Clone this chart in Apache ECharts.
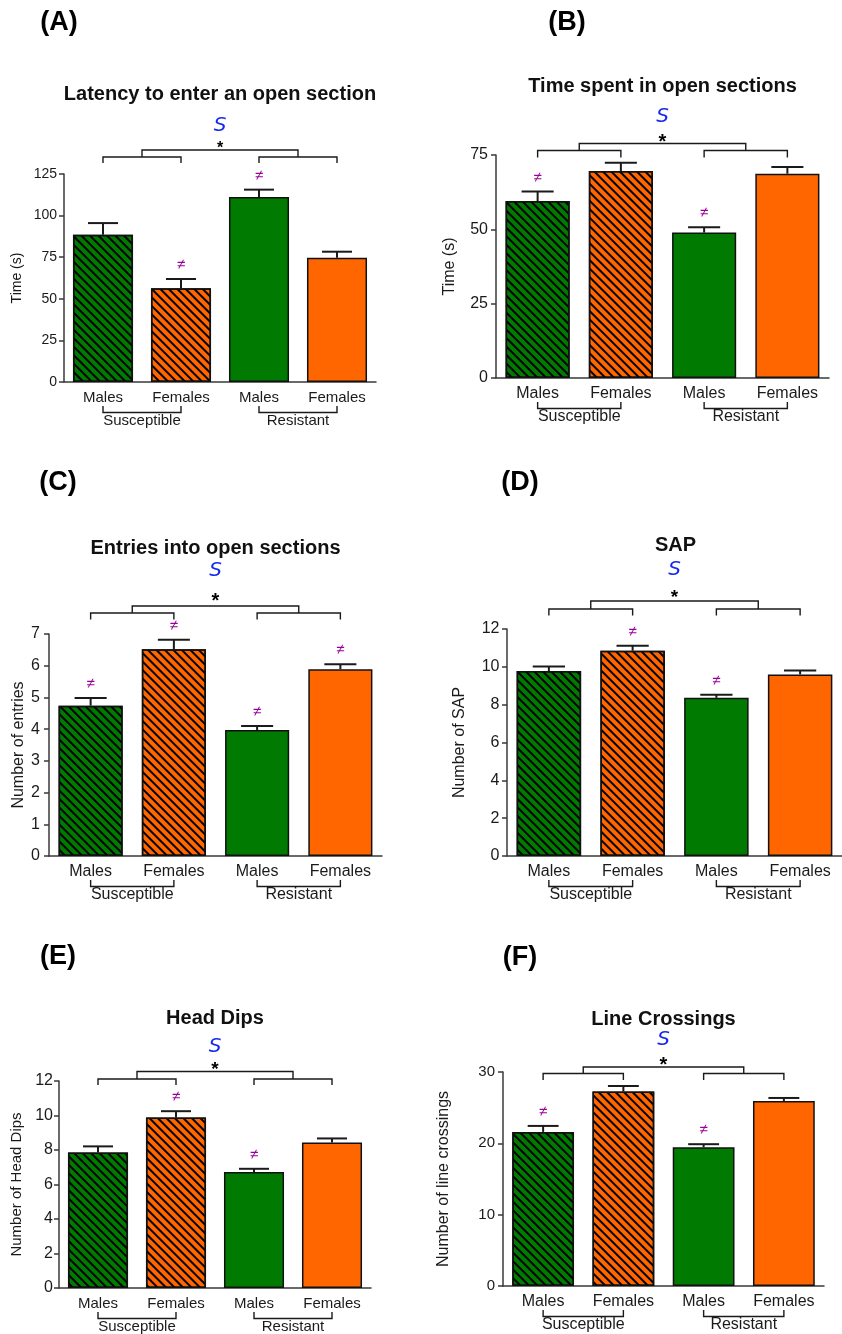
<!DOCTYPE html>
<html>
<head>
<meta charset="utf-8">
<script src="https://cdn.jsdelivr.net/npm/echarts@6/dist/echarts.min.js"></script>
<style>
html,body{margin:0;padding:0;background:#fff;}
#chart{width:842px;height:1334px;}
</style>
</head>
<body>
<div id="chart"></div>
<script>
// ---------------- DATA ----------------
const catLabels = ['Males', 'Females', 'Males', 'Females'];
const groupLabels = ['Susceptible', 'Resistant'];
const panelTags = ['(A)', '(B)', '(C)', '(D)', '(E)', '(F)'];
const panelTitles = ['Latency to enter an open section', 'Time spent in open sections',
  'Entries into open sections', 'SAP', 'Head Dips', 'Line Crossings'];
const yAxisNames = ['Time (s)', 'Time (s)', 'Number of entries', 'Number of SAP',
  'Number of Head Dips', 'Number of line crossings'];
const yMax = [125, 75, 7, 12, 12, 30];
const yStep = [25, 25, 1, 2, 2, 10];

const latencyMean = [88.5, 56.3, 111.2, 74.7];
const latencySem  = [7.0, 5.6, 4.4, 3.6];
const latencyNeq  = [0, 1, 1, 0];

const timeMean = [59.5, 69.6, 48.9, 68.7];
const timeSem  = [3.2, 2.8, 1.8, 2.3];
const timeNeq  = [1, 0, 1, 0];

const entriesMean = [4.74, 6.52, 3.97, 5.89];
const entriesSem  = [0.24, 0.30, 0.13, 0.16];
const entriesNeq  = [1, 1, 1, 1];

const sapMean = [9.78, 10.85, 8.36, 9.60];
const sapSem  = [0.24, 0.27, 0.16, 0.21];
const sapNeq  = [0, 1, 1, 0];

const headMean = [7.86, 9.88, 6.72, 8.44];
const headSem  = [0.35, 0.37, 0.19, 0.23];
const headNeq  = [0, 1, 1, 0];

const lineMean = [21.6, 27.25, 19.46, 25.94];
const lineSem  = [0.84, 0.79, 0.42, 0.42];
const lineNeq  = [1, 0, 1, 0];

const groupEffect = 'S';
const sexEffect = '*';
const diffMark = '\u2260';

const allMeans = [latencyMean, timeMean, entriesMean, sapMean, headMean, lineMean];
const allSems = [latencySem, timeSem, entriesSem, sapSem, headSem, lineSem];
const allNeq = [latencyNeq, timeNeq, entriesNeq, sapNeq, headNeq, lineNeq];

// ---------------- LAYOUT / STYLE ----------------
const FONT = 'Liberation Sans, Arial, sans-serif';
const GREEN = '#007A00', ORANGE = '#FF6600';
const AXIS = '#3a3a3a', INK = '#1a1a1a';
const BAR_FRAC = 0.77;
const layout = [
  {grid:{left:64, top:174, width:312, height:208}, fs:15, yfs:14, nfs:14, nameCx:16.7, lm:7, titleY:94, tag:[59,23],
   sub:-17, subBot:-11, main:-24, star:-29, sig:-48, starFs:16},
  {grid:{left:496, top:155, width:333, height:223}, fs:16, yfs:16, nfs:16, nameCx:450, lm:8, titleY:86, tag:[567,23],
   sub:-4.5, subBot:2.5, main:-11.5, star:-17, sig:-38, starFs:20},
  {grid:{left:49, top:634, width:333, height:222}, fs:16, yfs:16, nfs:16, nameCx:18.3, lm:9, titleY:548, tag:[58,483],
   sub:-21, subBot:-14.5, main:-28, star:-37, sig:-63, starFs:20},
  {grid:{left:507, top:629, width:337, height:227}, fs:16, yfs:16, nfs:16, nameCx:460, lm:7.5, titleY:545, tag:[520,483],
   sub:-20, subBot:-13.5, main:-28, star:-35, sig:-59, starFs:19},
  {grid:{left:59, top:1081, width:312, height:207}, fs:15, yfs:16, nfs:15, nameCx:16.7, lm:6, titleY:1018, tag:[58,957],
   sub:-2, subBot:4, main:-9.5, star:-15, sig:-34, starFs:19},
  {grid:{left:503, top:1072, width:321, height:214}, fs:16, yfs:15, nfs:16, nameCx:443.3, lm:8, titleY:1019, tag:[520,958],
   sub:1.5, subBot:8, main:-5, star:-11, sig:-32, starFs:20}
];

const hatch = {
  symbol: 'rect', symbolSize: 1, color: '#000',
  dashArrayX: [1, 0], dashArrayY: [1.9, 3.757], rotation: Math.PI / 4
};

function txt(x, y, text, size, color, extra) {
  return {
    type: 'text',
    style: Object.assign({
      x: x, y: y, text: text, fontSize: size, fontFamily: FONT, fill: color,
      align: 'center', verticalAlign: 'middle', textAlign: 'center', textVerticalAlign: 'middle'
    }, extra || {})
  };
}
function poly(points, w) {
  return {type: 'polyline', shape: {points: points}, style: {stroke: INK, lineWidth: w || 1.4, fill: null}};
}

const grids = [], xAxes = [], yAxes = [], series = [], titles = [];

for (let k = 0; k < 6; k++) {
  const L = layout[k];
  const means = allMeans[k], sems = allSems[k], neq = allNeq[k];
  grids.push(L.grid);
  xAxes.push({
    type: 'category', gridIndex: k, data: catLabels, boundaryGap: true,
    axisLine: {lineStyle: {color: AXIS, width: 1.5}},
    axisTick: {alignWithLabel: true, length: 5, lineStyle: {color: AXIS, width: 1.5}},
    axisLabel: {fontSize: L.fs, fontFamily: FONT, color: INK, margin: 8, interval: 0}
  });
  yAxes.push({
    type: 'value', gridIndex: k, min: 0, max: yMax[k], interval: yStep[k],
    axisLine: {show: true, lineStyle: {color: AXIS, width: 1.5}},
    axisTick: {show: true, length: 5, lineStyle: {color: AXIS, width: 1.5}},
    splitLine: {show: false},
    axisLabel: {fontSize: L.yfs, fontFamily: FONT, color: INK, margin: L.lm},
    name: yAxisNames[k], nameLocation: 'middle', nameRotate: 90,
    nameGap: L.grid.left - L.nameCx - L.nfs / 2,
    nameTextStyle: {fontSize: L.nfs, fontFamily: FONT, color: INK}
  });
  titles.push({
    text: panelTitles[k], left: L.grid.left + L.grid.width / 2, top: L.titleY - 10,
    textAlign: 'center', padding: 0,
    textStyle: {fontSize: 20, fontWeight: 'bold', fontFamily: FONT, color: '#111'}
  });
  titles.push({
    text: panelTags[k], left: L.tag[0], top: L.tag[1] - 14, textAlign: 'center', padding: 0,
    textStyle: {fontSize: 27, fontWeight: 'bold', fontFamily: FONT, color: '#000'}
  });
  series.push({
    type: 'bar', xAxisIndex: k, yAxisIndex: k, barWidth: (BAR_FRAC * 100) + '%', z: 2,
    data: means.map((v, i) => ({
      value: v,
      itemStyle: Object.assign({
        color: (i % 2 === 0) ? GREEN : ORANGE,
        borderColor: '#111', borderWidth: 1.5
      }, i < 2 ? {decal: hatch} : {})
    })),
    emphasis: {disabled: true}
  });
  series.push({
    type: 'custom', xAxisIndex: k, yAxisIndex: k, z: 3, clip: false,
    data: means.map((v, i) => [i, v, v + sems[i], neq[i]]),
    encode: {x: 0, y: [1, 2]},
    renderItem: function (params, api) {
      const i = api.value(0), m = api.value(1), e = api.value(2), f = api.value(3);
      const pm = api.coord([i, m]), pe = api.coord([i, e]);
      const half = api.size([1, 0])[0] * BAR_FRAC * 0.25;
      const ch = [
        {type: 'line', shape: {x1: pm[0], y1: pm[1], x2: pe[0], y2: pe[1]}, style: {stroke: INK, lineWidth: 2}},
        {type: 'line', shape: {x1: pe[0] - half, y1: pe[1], x2: pe[0] + half, y2: pe[1]}, style: {stroke: INK, lineWidth: 2}}
      ];
      if (f) ch.push(txt(pe[0], pe[1] - 14, diffMark, 15, '#990099'));
      return {type: 'group', children: ch};
    }
  });
  series.push({
    type: 'custom', xAxisIndex: k, yAxisIndex: k, z: 4, clip: false,
    data: [[0, 0]],
    encode: {x: 0, y: 1},
    renderItem: function (params, api) {
      const xs = [0, 1, 2, 3].map(i => api.coord([i, 0])[0]);
      const yTop = api.coord([0, yMax[k]])[1];
      const y0 = api.coord([0, 0])[1];
      const ch = [];
      const ys = yTop + L.sub, yb = yTop + L.subBot, ym = yTop + L.main;
      const mids = [];
      for (let g = 0; g < 2; g++) {
        const a = xs[2 * g], b = xs[2 * g + 1];
        mids.push((a + b) / 2);
        ch.push(poly([[a, yb], [a, ys], [b, ys], [b, yb]]));
        ch.push(poly([[a, y0 + 24], [a, y0 + 30.5], [b, y0 + 30.5], [b, y0 + 24]]));
        ch.push(txt((a + b) / 2, y0 + 39, groupLabels[g], L.fs, INK));
      }
      ch.push(poly([[mids[0], ys], [mids[0], ym], [mids[1], ym], [mids[1], ys]]));
      const cx = (mids[0] + mids[1]) / 2;
      ch.push(txt(cx, yTop + L.star + L.starFs * 0.22, sexEffect, L.starFs, '#000', {fontWeight: 'bold'}));
      ch.push(txt(cx, yTop + L.sig, groupEffect, 20, '#1428f0', {fontStyle: 'italic', fontFamily: 'DejaVu Sans'}));
      return {type: 'group', children: ch};
    }
  });
}

const chart = echarts.init(document.getElementById('chart'), null, {renderer: 'canvas'});
chart.setOption({
  backgroundColor: '#fff',
  animation: false,
  title: titles,
  grid: grids,
  xAxis: xAxes,
  yAxis: yAxes,
  series: series
});
</script>
</body>
</html>
